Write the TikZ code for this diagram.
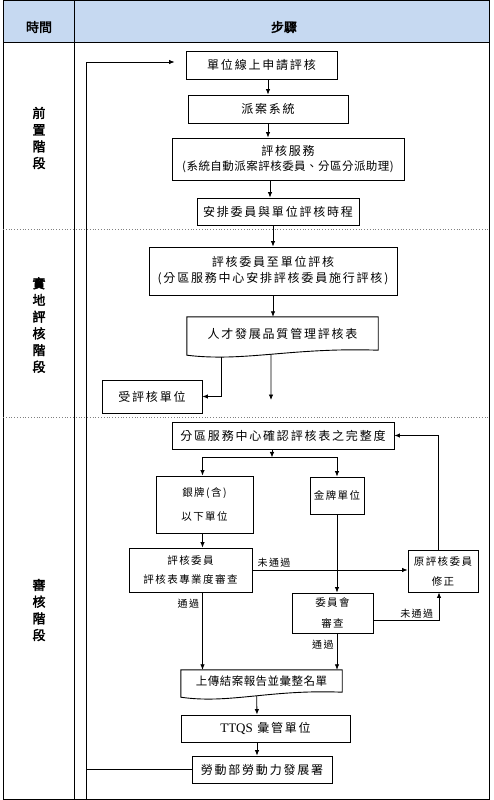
\documentclass[tikz,border=0pt]{standalone}
\usepackage{fontspec}
\setmainfont{Liberation Serif}
\newfontfamily\cjk[LetterSpace=15]{Noto Sans CJK TC}
\newfontfamily\cjktight[LetterSpace=4]{Noto Sans CJK TC}
\newfontfamily\cjksmall[LetterSpace=14]{Noto Sans CJK TC}
\newfontfamily\cjkhead[FakeBold=2.5]{Noto Sans CJK TC}
\usetikzlibrary{arrows.meta,calc}
\definecolor{headblue}{HTML}{C6D9F1}
\tikzset{
  stepbox/.style={draw,line width=.9pt,fill=white,inner sep=0pt,align=center,font=\cjk\fontsize{12}{15}\selectfont},
  smallbox/.style={stepbox,font=\cjksmall\fontsize{10.5}{14}\selectfont},
  docbox/.style={inner sep=0pt,align=center,font=\cjk\fontsize{12}{15}\selectfont},
  flow/.style={line width=.8pt,-{Latex[length=5.5pt,width=4.5pt]}},
  link/.style={line width=.8pt},
  note/.style={font=\cjksmall\fontsize{10}{11}\selectfont,inner sep=1pt},
  stage/.style={font=\cjkhead\fontsize{13}{16.7}\selectfont,align=center,inner sep=0pt},
  rowline/.style={gray,dotted,line width=.8pt},
}
\begin{document}
\begin{tikzpicture}[x=1pt,y=-1pt]
    \useasboundingbox (0,0) rectangle (494,800);
    \fill[headblue] (3,1) rectangle (489,42);
    \draw[line width=1pt] (3,1) rectangle (489,799);
    \draw[line width=.9pt] (3,42) -- (489,42) (74,1) -- (74,799);
    \draw[rowline] (3,229) -- (489,229) (3,417) -- (489,417);
    \node[stage] (hdtime) at (39,27) {時間};
    \node[stage] (hdstep) at (284,27) {步驟};
    \node[stage] (pre) at (39,138) {前\\置\\階\\段};
    \node[stage] (site) at (39,325) {實\\地\\評\\核\\階\\段};
    \node[stage] (audit) at (39,610) {審\\核\\階\\段};

    \node[stepbox,minimum width=151,minimum height=28] (apply) at (261.5,65) {單位線上申請評核};
    \node[stepbox,minimum width=160,minimum height=28] (dispatch) at (268,109) {派案系統};
    \node[stepbox,minimum width=232,minimum height=42] (service) at (288,159) {評核服務\\{\cjktight\fontsize{11.5}{15}\selectfont(系統自動派案評核委員、分區分派助理)}};
    \node[stepbox,minimum width=162,minimum height=27] (schedule) at (278,211.5) {安排委員與單位評核時程};
    \node[stepbox,minimum width=248,minimum height=48] (visit) at (273,271) {評核委員至單位評核\\[1pt](分區服務中心安排評核委員施行評核)};
    \node[docbox,minimum width=191,minimum height=33] (form) at (282.5,333.5) {人才發展品質管理評核表};
    \draw[line width=.9pt] (form.south west) -- (form.north west) -- (form.north east) -- (form.south east)
        .. controls ($(form.south east)!.45!(form.south west)+(0,-3)$) and ($(form.south east)!.7!(form.south west)+(0,12)$) .. ($(form.south west)+(0,5)$) -- cycle;
    \node[stepbox,minimum width=100,minimum height=33] (unit) at (152,396.5) {受評核單位};
    \coordinate (formout) at (271,400);

    \node[stepbox,minimum width=222,minimum height=27] (check) at (283,435.5) {分區服務中心確認評核表之完整度};
    \node[smallbox,minimum width=97,minimum height=57] (silver) at (204.5,504.5) {銀牌(含)\\[10pt]以下單位};
    \node[smallbox,minimum width=54,minimum height=37] (gold) at (337,495.5) {金牌單位};
    \node[smallbox,minimum width=123,minimum height=44] (review) at (190.5,570) {評核委員\\[5pt]評核表專業度審查};
    \node[smallbox,minimum width=70,minimum height=42] (revise) at (443,571) {原評核委員\\[6pt]修正};
    \node[smallbox,minimum width=81,minimum height=40] (committee) at (332.5,613) {委員會\\[7pt]審查};
    \node[docbox,font=\cjktight\fontsize{11.5}{15}\selectfont,minimum width=161,minimum height=22] (upload) at (261.5,681) {上傳結案報告並彙整名單};
    \draw[line width=.9pt] (upload.south west) -- (upload.north west) -- (upload.north east) -- (upload.south east)
        .. controls ($(upload.south east)!.45!(upload.south west)+(0,-3)$) and ($(upload.south east)!.7!(upload.south west)+(0,12)$) .. ($(upload.south west)+(0,5)$) -- cycle;
    \node[stepbox,minimum width=169,minimum height=27] (ttqs) at (265.5,728.5) {{\rmfamily\fontsize{13}{15}\selectfont TTQS} 彙管單位};
    \node[stepbox,minimum width=140,minimum height=27] (wda) at (262,769.5) {勞動部勞動力發展署};
    \coordinate (loopbot) at (86,799);

    \draw[flow] (apply.south -| dispatch.north) -- (dispatch.north);
    \draw[flow] (dispatch.south) -- (dispatch.south |- service.north);
    \draw[flow] ([xshift=-18pt]service.south) -- ([xshift=-8pt]schedule.north);
    \draw[flow] (schedule.south -| visit.north) -- (visit.north);
    \draw[flow] (visit.south) -- (visit.south |- form.north);
    \draw[flow] ($(form.south west)!.18!(form.south east)+(0,7)$) |- (unit.east);
    \draw[flow] ($(form.south west)!.44!(form.south east)+(0,4)$) -- (formout);

    \draw[flow] ([xshift=-11pt]check.south) -- ++(0,8) coordinate (split);
    \draw[flow] (split) -| ([xshift=-2pt]silver.north);
    \draw[flow] (split) -| (gold.north);
    \draw[flow] ([xshift=-2pt]silver.south) -- ([xshift=-2pt]silver.south |- review.north);
    \draw[flow] (review.east) -- (review.east -| revise.west);
    \node[note,anchor=south west] (nopass) at ([xshift=4pt,yshift=1pt]review.east) {未通過};
    \draw[flow] ([xshift=-5pt]revise.north) |- (check.east);
    \draw[flow] (gold.south) -- (gold.south |- committee.north);
    \draw[flow] ([yshift=-7pt]committee.east) -| node[note,pos=.33,above] (nopassb) {未通過} ([xshift=-4pt]revise.south);
    \draw[flow] ([xshift=-2pt]silver.south |- review.south) -- node[note,pos=.15,left=2pt] (pass) {通過} ([xshift=-2pt]silver.south |- upload.north);
    \draw[flow] (gold.south |- committee.south) -- node[note,pos=.32,left=2pt] (passb) {通過} (gold.south |- upload.north);
    \draw[flow] ($(upload.south west)!.47!(upload.south east)+(0,4)$) -- ([xshift=-8.5pt]ttqs.north);
    \draw[flow] ([xshift=-8.5pt]ttqs.south) -- ([xshift=-5pt]wda.north);
    \draw[link] (wda.west) -- (wda.west -| loopbot);
    \draw[flow,shorten >=11pt] (loopbot) |- ([yshift=3pt]apply.west);
\end{tikzpicture}
\end{document}
